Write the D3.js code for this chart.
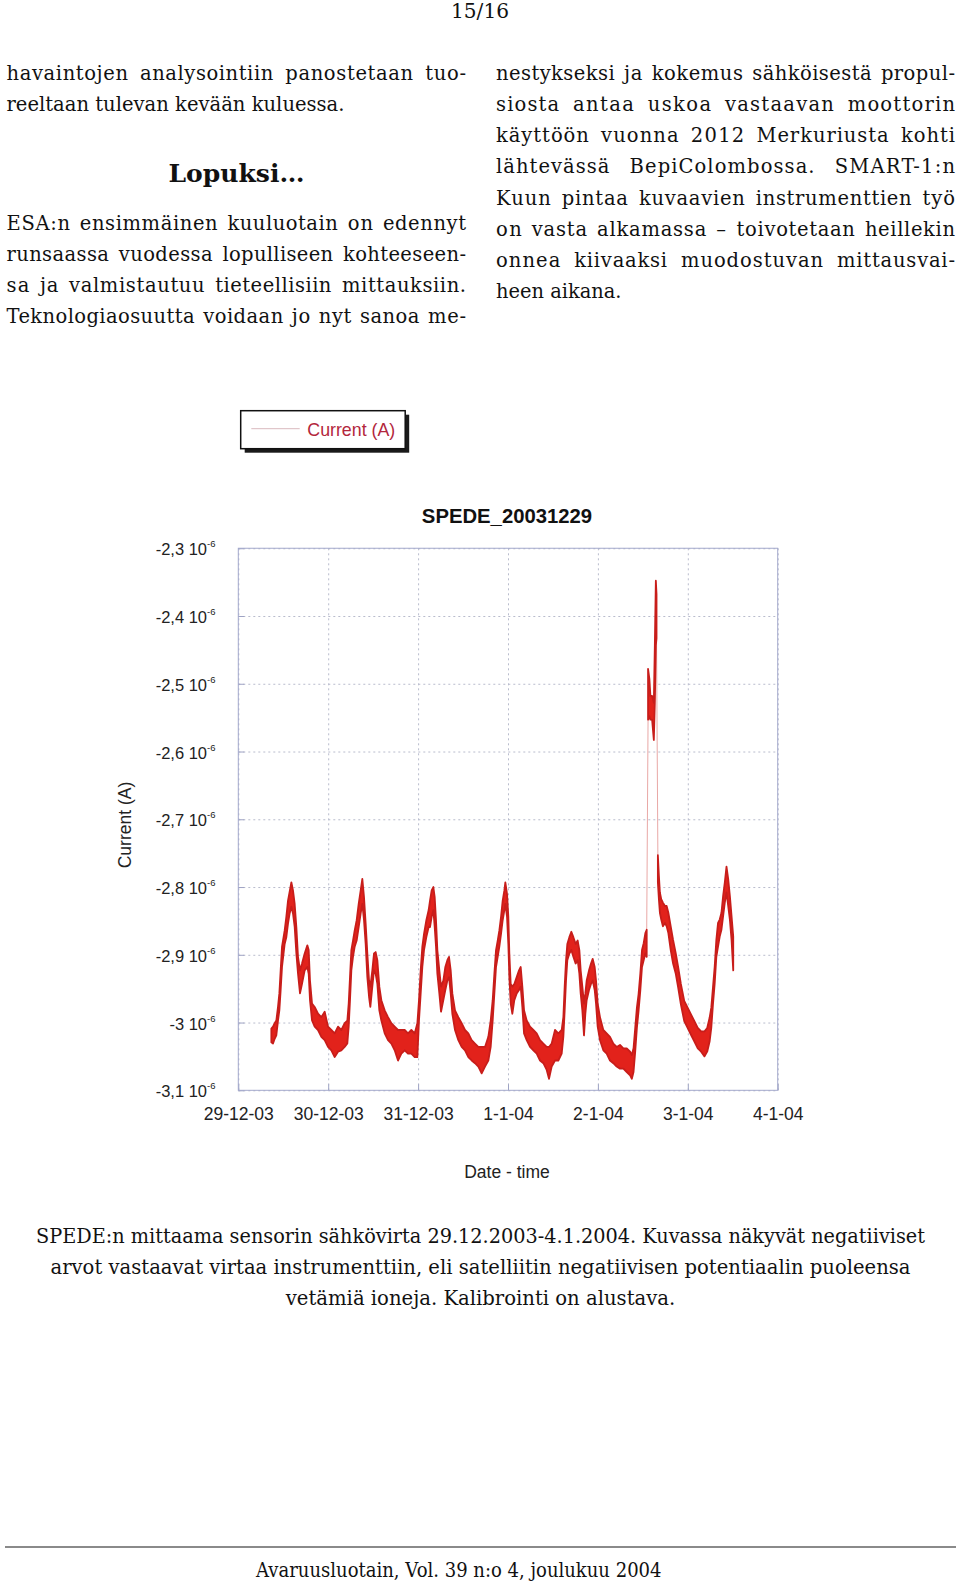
<!DOCTYPE html>
<html><head><meta charset="utf-8">
<script src="https://cdn.jsdelivr.net/npm/d3@7/dist/d3.min.js"></script>
<style>html,body{margin:0;padding:0;background:#fff;}svg{display:block;}</style>
</head><body>
<svg id="page" width="960" height="1587"></svg>
<script>
// ---------- DATA (current in units of 1e-6 A, time in hours from 29-12-2003 00:00) ----------
const hours = [8.82,9.27,9.71,10.15,10.6,10.96,11.31,11.67,12.38,12.82,13.27,13.71,14.16,14.6,15.05,15.5,15.94,16.47,17.01,17.72,18.43,18.79,19.14,19.68,20.39,21.28,22.17,23.06,23.95,24.84,25.73,26.62,27.51,28.4,29.11,29.47,29.82,30.18,30.62,31.07,31.6,32.14,32.67,33.11,33.56,34.0,34.45,34.9,35.25,35.78,36.23,36.67,37.12,37.65,38.19,39.08,39.97,40.86,41.75,42.64,43.53,44.42,45.31,46.2,47.09,47.8,48.24,48.69,49.13,49.58,50.2,50.82,51.18,51.62,52.07,52.43,52.78,53.14,53.67,54.12,54.74,55.27,55.81,56.25,56.7,57.14,57.85,58.74,59.63,60.52,61.41,62.3,63.19,64.08,64.97,65.86,66.75,67.38,67.91,68.36,68.8,69.25,69.69,70.14,70.58,71.03,71.29,71.74,72.09,72.36,72.72,73.16,73.69,74.32,74.94,75.39,75.83,76.28,76.99,77.88,78.77,79.66,80.55,81.44,82.33,82.95,83.66,84.55,85.44,86.33,86.78,87.13,87.49,87.84,88.38,88.91,89.45,90.07,90.6,91.05,91.4,91.85,92.29,92.65,93.0,93.63,94.16,94.61,95.14,95.5,95.94,96.56,97.45,98.34,99.23,100.12,101.01,101.9,102.8,103.7,104.6,105.06,105.51,105.96,106.41,106.86,107.32,107.77,108.22,108.67,109.03,109.39,109.75,110.02,110.47,110.93,111.2,111.47,111.65,112.01,112.28,112.55,112.91,113.36,113.9,114.35,114.81,115.44,116.07,116.79,117.42,118.15,119.05,119.95,120.85,121.76,122.66,123.56,124.46,125.18,125.82,126.27,126.72,127.17,127.62,128.07,128.52,128.98,129.43,129.88,130.33,130.78,131.23,131.68,132.13];
const upper = [-3.009,-3.006,-3.001,-2.997,-2.977,-2.957,-2.923,-2.888,-2.864,-2.844,-2.820,-2.807,-2.793,-2.805,-2.825,-2.859,-2.903,-2.923,-2.913,-2.898,-2.886,-2.893,-2.938,-2.972,-2.977,-2.987,-2.992,-2.984,-3.006,-3.011,-3.016,-3.006,-3.011,-3.001,-2.997,-2.972,-2.933,-2.893,-2.879,-2.864,-2.849,-2.825,-2.805,-2.788,-2.815,-2.854,-2.898,-2.938,-2.947,-2.923,-2.898,-2.896,-2.908,-2.947,-2.967,-2.982,-2.992,-3.001,-3.006,-3.011,-3.011,-3.011,-3.016,-3.011,-3.016,-3.001,-2.967,-2.923,-2.888,-2.869,-2.849,-2.834,-2.820,-2.805,-2.800,-2.815,-2.849,-2.893,-2.923,-2.947,-2.938,-2.918,-2.908,-2.903,-2.923,-2.957,-2.982,-2.992,-3.001,-3.011,-3.016,-3.026,-3.031,-3.036,-3.036,-3.036,-3.021,-2.997,-2.967,-2.928,-2.893,-2.879,-2.864,-2.844,-2.820,-2.805,-2.793,-2.810,-2.844,-2.898,-2.943,-2.947,-2.943,-2.933,-2.923,-2.918,-2.947,-2.982,-2.997,-3.006,-3.011,-3.016,-3.026,-3.031,-3.036,-3.036,-3.031,-3.011,-3.016,-3.011,-2.992,-2.947,-2.908,-2.884,-2.874,-2.866,-2.874,-2.884,-2.879,-2.893,-2.923,-2.947,-2.972,-2.957,-2.938,-2.923,-2.913,-2.906,-2.918,-2.938,-2.972,-2.992,-3.011,-3.016,-3.021,-3.031,-3.036,-3.033,-3.038,-3.038,-3.043,-3.048,-3.038,-3.008,-2.978,-2.958,-2.928,-2.893,-2.883,-2.868,-2.863,-2.478,-2.493,-2.518,-2.518,-2.528,-2.443,-2.348,-2.368,-2.753,-2.783,-2.808,-2.818,-2.823,-2.828,-2.828,-2.838,-2.858,-2.878,-2.898,-2.918,-2.943,-2.968,-2.978,-2.988,-2.998,-3.008,-3.013,-3.013,-3.008,-2.993,-2.978,-2.948,-2.918,-2.878,-2.853,-2.848,-2.838,-2.813,-2.793,-2.770,-2.788,-2.813,-2.843,-2.873];
const lower = [-3.029,-3.031,-3.024,-3.019,-2.997,-2.982,-2.952,-2.918,-2.884,-2.874,-2.854,-2.839,-2.829,-2.839,-2.859,-2.898,-2.928,-2.957,-2.943,-2.923,-2.918,-2.928,-2.967,-2.997,-3.006,-3.011,-3.021,-3.026,-3.036,-3.041,-3.051,-3.043,-3.041,-3.036,-3.031,-3.006,-2.967,-2.923,-2.903,-2.888,-2.879,-2.859,-2.839,-2.825,-2.849,-2.884,-2.933,-2.962,-2.977,-2.947,-2.923,-2.928,-2.943,-2.982,-2.997,-3.016,-3.026,-3.031,-3.041,-3.056,-3.046,-3.041,-3.046,-3.046,-3.051,-3.051,-2.997,-2.957,-2.918,-2.893,-2.874,-2.859,-2.859,-2.844,-2.834,-2.859,-2.888,-2.928,-2.957,-2.984,-2.967,-2.952,-2.938,-2.933,-2.957,-2.987,-3.011,-3.026,-3.036,-3.041,-3.051,-3.056,-3.060,-3.065,-3.075,-3.065,-3.056,-3.036,-2.997,-2.957,-2.918,-2.903,-2.888,-2.869,-2.849,-2.834,-2.825,-2.844,-2.884,-2.933,-2.972,-2.987,-2.967,-2.957,-2.952,-2.947,-2.977,-3.016,-3.026,-3.036,-3.041,-3.046,-3.056,-3.060,-3.070,-3.083,-3.065,-3.056,-3.056,-3.046,-3.021,-2.982,-2.938,-2.908,-2.898,-2.893,-2.903,-2.913,-2.908,-2.928,-2.957,-2.982,-3.019,-2.987,-2.967,-2.952,-2.943,-2.938,-2.952,-2.972,-3.006,-3.026,-3.041,-3.046,-3.056,-3.060,-3.065,-3.068,-3.068,-3.073,-3.078,-3.083,-3.073,-3.043,-3.008,-2.983,-2.953,-2.918,-2.908,-2.898,-2.903,-2.553,-2.548,-2.553,-2.553,-2.583,-2.528,-2.443,-2.433,-2.793,-2.818,-2.838,-2.848,-2.858,-2.853,-2.858,-2.868,-2.893,-2.913,-2.928,-2.948,-2.973,-2.998,-3.008,-3.018,-3.028,-3.038,-3.043,-3.050,-3.043,-3.028,-3.008,-2.973,-2.943,-2.903,-2.888,-2.873,-2.863,-2.843,-2.823,-2.808,-2.828,-2.848,-2.878,-2.923];

const dayLabels = ["29-12-03","30-12-03","31-12-03","1-1-04","2-1-04","3-1-04","4-1-04"];
const dayDates = [new Date(2003,11,29),new Date(2003,11,30),new Date(2003,11,31),new Date(2004,0,1),new Date(2004,0,2),new Date(2004,0,3),new Date(2004,0,4)];
const yTickValues = [-2.3,-2.4,-2.5,-2.6,-2.7,-2.8,-2.9,-3.0,-3.1];
const yTickLabels = ["-2,3","-2,4","-2,5","-2,6","-2,7","-2,8","-2,9","-3","-3,1"];
const yExponent = "-6";
const chartTitle = "SPEDE_20031229";
const legendLabel = "Current (A)";
const yAxisTitle = "Current (A)";
const xAxisTitle = "Date - time";

// ---------- PAGE TEXT ----------
const pageNumber = "15/16";
const leftPara1 = ["havaintojen analysointiin panostetaan tuo-", "reeltaan tulevan kevään kuluessa."];
const heading = "Lopuksi…";
const leftPara2 = ["ESA:n ensimmäinen kuuluotain on edennyt", "runsaassa vuodessa lopulliseen kohteeseen-", "sa ja valmistautuu tieteellisiin mittauksiin.", "Teknologiaosuutta voidaan jo nyt sanoa me-"];
const rightPara = ["nestykseksi ja kokemus sähköisestä propul-", "siosta antaa uskoa vastaavan moottorin", "käyttöön vuonna 2012 Merkuriusta kohti", "lähtevässä BepiColombossa. SMART-1:n", "Kuun pintaa kuvaavien instrumenttien työ", "on vasta alkamassa – toivotetaan heillekin", "onnea kiivaaksi muodostuvan mittausvai-", "heen aikana."];
const caption = ["SPEDE:n mittaama sensorin sähkövirta 29.12.2003-4.1.2004. Kuvassa näkyvät negatiiviset", "arvot vastaavat virtaa instrumenttiin, eli satelliitin negatiivisen potentiaalin puoleensa", "vetämiä ioneja. Kalibrointi on alustava."];
const footer = "Avaruusluotain, Vol. 39 n:o 4, joulukuu 2004";

// ---------- RENDER ----------
const svg = d3.select("#page");
const serif = "'DejaVu Serif', serif";
const sans = "'Liberation Sans', Arial, sans-serif";
const FS = 19.5;

function measure(str, font, size, weight) {
  const t = svg.append("text").attr("font-family", font).attr("font-size", size).attr("font-weight", weight || "normal").text(str);
  const w = t.node().getComputedTextLength(); t.remove(); return w;
}
const spaceW = measure("a a", serif, FS) - measure("aa", serif, FS);
function justified(str, x0, x1, y) {
  const words = str.split(" ");
  const widths = words.map(w => measure(w, serif, FS));
  const wsum = d3.sum(widths);
  const natural = wsum + spaceW * (words.length - 1);
  const extra = (x1 - x0) - natural;
  const k = extra * 0.55 / wsum;
  const scaled = widths.map(w => w * (1 + k));
  const gap = (x1 - x0 - d3.sum(scaled)) / (words.length - 1);
  let x = x0;
  words.forEach((w, i) => {
    svg.append("text").attr("x", x).attr("y", y).attr("font-family", serif).attr("font-size", FS).attr("fill", "#111")
      .attr("textLength", scaled[i]).attr("lengthAdjust", "spacing").text(w);
    x += scaled[i] + gap;
  });
}
function plain(str, x, y, anchor, len) {
  const t = svg.append("text").attr("x", x).attr("y", y).attr("font-family", serif).attr("font-size", FS)
    .attr("fill", "#111").attr("text-anchor", anchor || "start").text(str);
  if (len) t.attr("textLength", len).attr("lengthAdjust", "spacingAndGlyphs");
  return t;
}

// page number
plain(pageNumber, 480, 17.5, "middle", 58);
// columns
const LX0 = 6.5, LX1 = 466, RX0 = 496, RX1 = 955, LH = 31.15;
justified(leftPara1[0], LX0, LX1, 80);
plain(leftPara1[1], LX0, 111, "start", 338);
svg.append("text").attr("x", 236.5).attr("y", 181.5).attr("text-anchor", "middle")
  .attr("font-family", serif).attr("font-size", 25).attr("font-weight", "bold").attr("fill", "#111")
  .attr("textLength", 136).attr("lengthAdjust", "spacingAndGlyphs").text(heading);
leftPara2.forEach((s, i) => justified(s, LX0, LX1, 229.5 + i * LH));
rightPara.forEach((s, i) => {
  if (i < rightPara.length - 1) justified(s, RX0, RX1, 80 + i * LH);
  else plain(s, RX0, 80 + i * LH, "start", 125.5);
});

// caption
const capLens = [889, 860, 389.5];
caption.forEach((s, i) => plain(s, 480.5, 1242.5 + i * 31.3, "middle", capLens[i]));
// footer
svg.append("line").attr("x1", 5).attr("x2", 956).attr("y1", 1547).attr("y2", 1547).attr("stroke", "#8a8a8a").attr("stroke-width", 2);
plain(footer, 458.8, 1577, "middle", 405.5);

// ---------- CHART ----------
const P = {left: 238.3, right: 777.7, top: 548.25, bottom: 1090.3};
const x = d3.scaleTime().domain([dayDates[0], dayDates[dayDates.length - 1]]).range([P.left, P.right]);
const y = d3.scaleLinear().domain([-3.1, -2.3]).range([P.bottom, P.top]);
const t0 = dayDates[0].getTime();
const series = hours.map((h, i) => ({t: new Date(t0 + h * 3600e3), hi: upper[i], lo: lower[i]}));

const chart = svg.append("g");
const gridColor = "#b9bccd";
chart.append("g").attr("transform", `translate(${P.left},0)`)
  .call(d3.axisLeft(y).tickValues(yTickValues).tickSize(-(P.right - P.left)).tickFormat(""))
  .call(g => g.select(".domain").remove())
  .call(g => g.selectAll("line").attr("stroke", gridColor).attr("stroke-dasharray", "2,3"));
chart.append("g").attr("transform", `translate(0,${P.bottom})`)
  .call(d3.axisBottom(x).tickValues(dayDates).tickSize(-(P.bottom - P.top)).tickFormat(""))
  .call(g => g.select(".domain").remove())
  .call(g => g.selectAll("line").attr("stroke", gridColor).attr("stroke-dasharray", "2,3"));
chart.append("g").attr("transform", `translate(${P.left},0)`)
  .call(d3.axisLeft(y).tickValues(yTickValues).tickSize(-6).tickFormat(""))
  .call(g => g.select(".domain").remove())
  .call(g => g.selectAll("line").attr("stroke", "#9ea3c4"));
chart.append("g").attr("transform", `translate(0,${P.bottom})`)
  .call(d3.axisBottom(x).tickValues(dayDates).tickSize(-6).tickFormat(""))
  .call(g => g.select(".domain").remove())
  .call(g => g.selectAll("line").attr("stroke", "#9ea3c4"));
chart.append("rect").attr("x", P.left).attr("y", P.top).attr("width", P.right - P.left).attr("height", P.bottom - P.top)
  .attr("fill", "none").attr("stroke", "#a4a9cc").attr("stroke-width", 1);

// split the band where the signal jumps, connect the pieces with thin lines
const segments = [[series[0]]];
for (let i = 1; i < series.length; i++) {
  const a = series[i - 1], b = series[i];
  if (Math.abs(b.hi - a.hi) > 0.2) segments.push([b]); else segments[segments.length - 1].push(b);
}
const area = d3.area().x(d => x(d.t)).y0(d => y(d.lo)).y1(d => y(d.hi));
for (let s = 1; s < segments.length; s++) {
  const a = segments[s - 1][segments[s - 1].length - 1], b = segments[s][0];
  const up = b.hi > a.hi;
  chart.append("line").attr("x1", x(a.t)).attr("x2", x(b.t))
    .attr("y1", y(up ? a.hi : a.lo)).attr("y2", y(up ? b.lo : b.hi))
    .attr("stroke", "#e9a8a6").attr("stroke-width", 1);
}
segments.forEach(seg => {
  chart.append("path").datum(seg).attr("d", area)
    .attr("fill", "#e2221b").attr("stroke", "#c81d1a").attr("stroke-width", 1.8).attr("stroke-linejoin", "round");
});

// y tick labels
const yl = chart.append("g");
yTickValues.forEach((v, i) => {
  const t = yl.append("text").attr("x", 215.5).attr("y", y(v) + 7).attr("text-anchor", "end")
    .attr("font-family", sans).attr("font-size", 16.5).attr("fill", "#222");
  t.append("tspan").text(yTickLabels[i] + " 10");
  t.append("tspan").attr("dy", -8).attr("font-size", 9.5).text(yExponent);
});
// x tick labels
chart.append("g").attr("transform", `translate(0,${P.bottom})`)
  .call(d3.axisBottom(x).tickValues(dayDates).tickSize(0).tickPadding(0).tickFormat((d, i) => dayLabels[i]))
  .call(g => g.select(".domain").remove())
  .call(g => g.selectAll("text").attr("dy", null).attr("y", 29.7).attr("font-family", sans).attr("font-size", 17.5).attr("fill", "#222"));

chart.append("text").attr("transform", "translate(131,825) rotate(-90)").attr("text-anchor", "middle")
  .attr("font-family", sans).attr("font-size", 17.5).attr("fill", "#222").text(yAxisTitle);
chart.append("text").attr("x", 507).attr("y", 1178).attr("text-anchor", "middle")
  .attr("font-family", sans).attr("font-size", 17.5).attr("fill", "#222").text(xAxisTitle);
chart.append("text").attr("x", 507).attr("y", 523).attr("text-anchor", "middle")
  .attr("font-family", sans).attr("font-size", 20.3).attr("font-weight", "bold").attr("fill", "#111").text(chartTitle);

// legend
const lg = chart.append("g");
lg.append("rect").attr("x", 244.7).attr("y", 414.7).attr("width", 164.5).attr("height", 38).attr("fill", "#1a1a1a");
lg.append("rect").attr("x", 240.7).attr("y", 410.7).attr("width", 164.5).attr("height", 38).attr("fill", "#fff").attr("stroke", "#111").attr("stroke-width", 1.5);
lg.append("line").attr("x1", 251.3).attr("x2", 299.7).attr("y1", 428.7).attr("y2", 428.7).attr("stroke", "#d9b9be").attr("stroke-width", 1);
lg.append("text").attr("x", 307.3).attr("y", 436).attr("font-family", sans).attr("font-size", 17.8).attr("fill", "#b3263c").text(legendLabel);
</script>
</body></html>
